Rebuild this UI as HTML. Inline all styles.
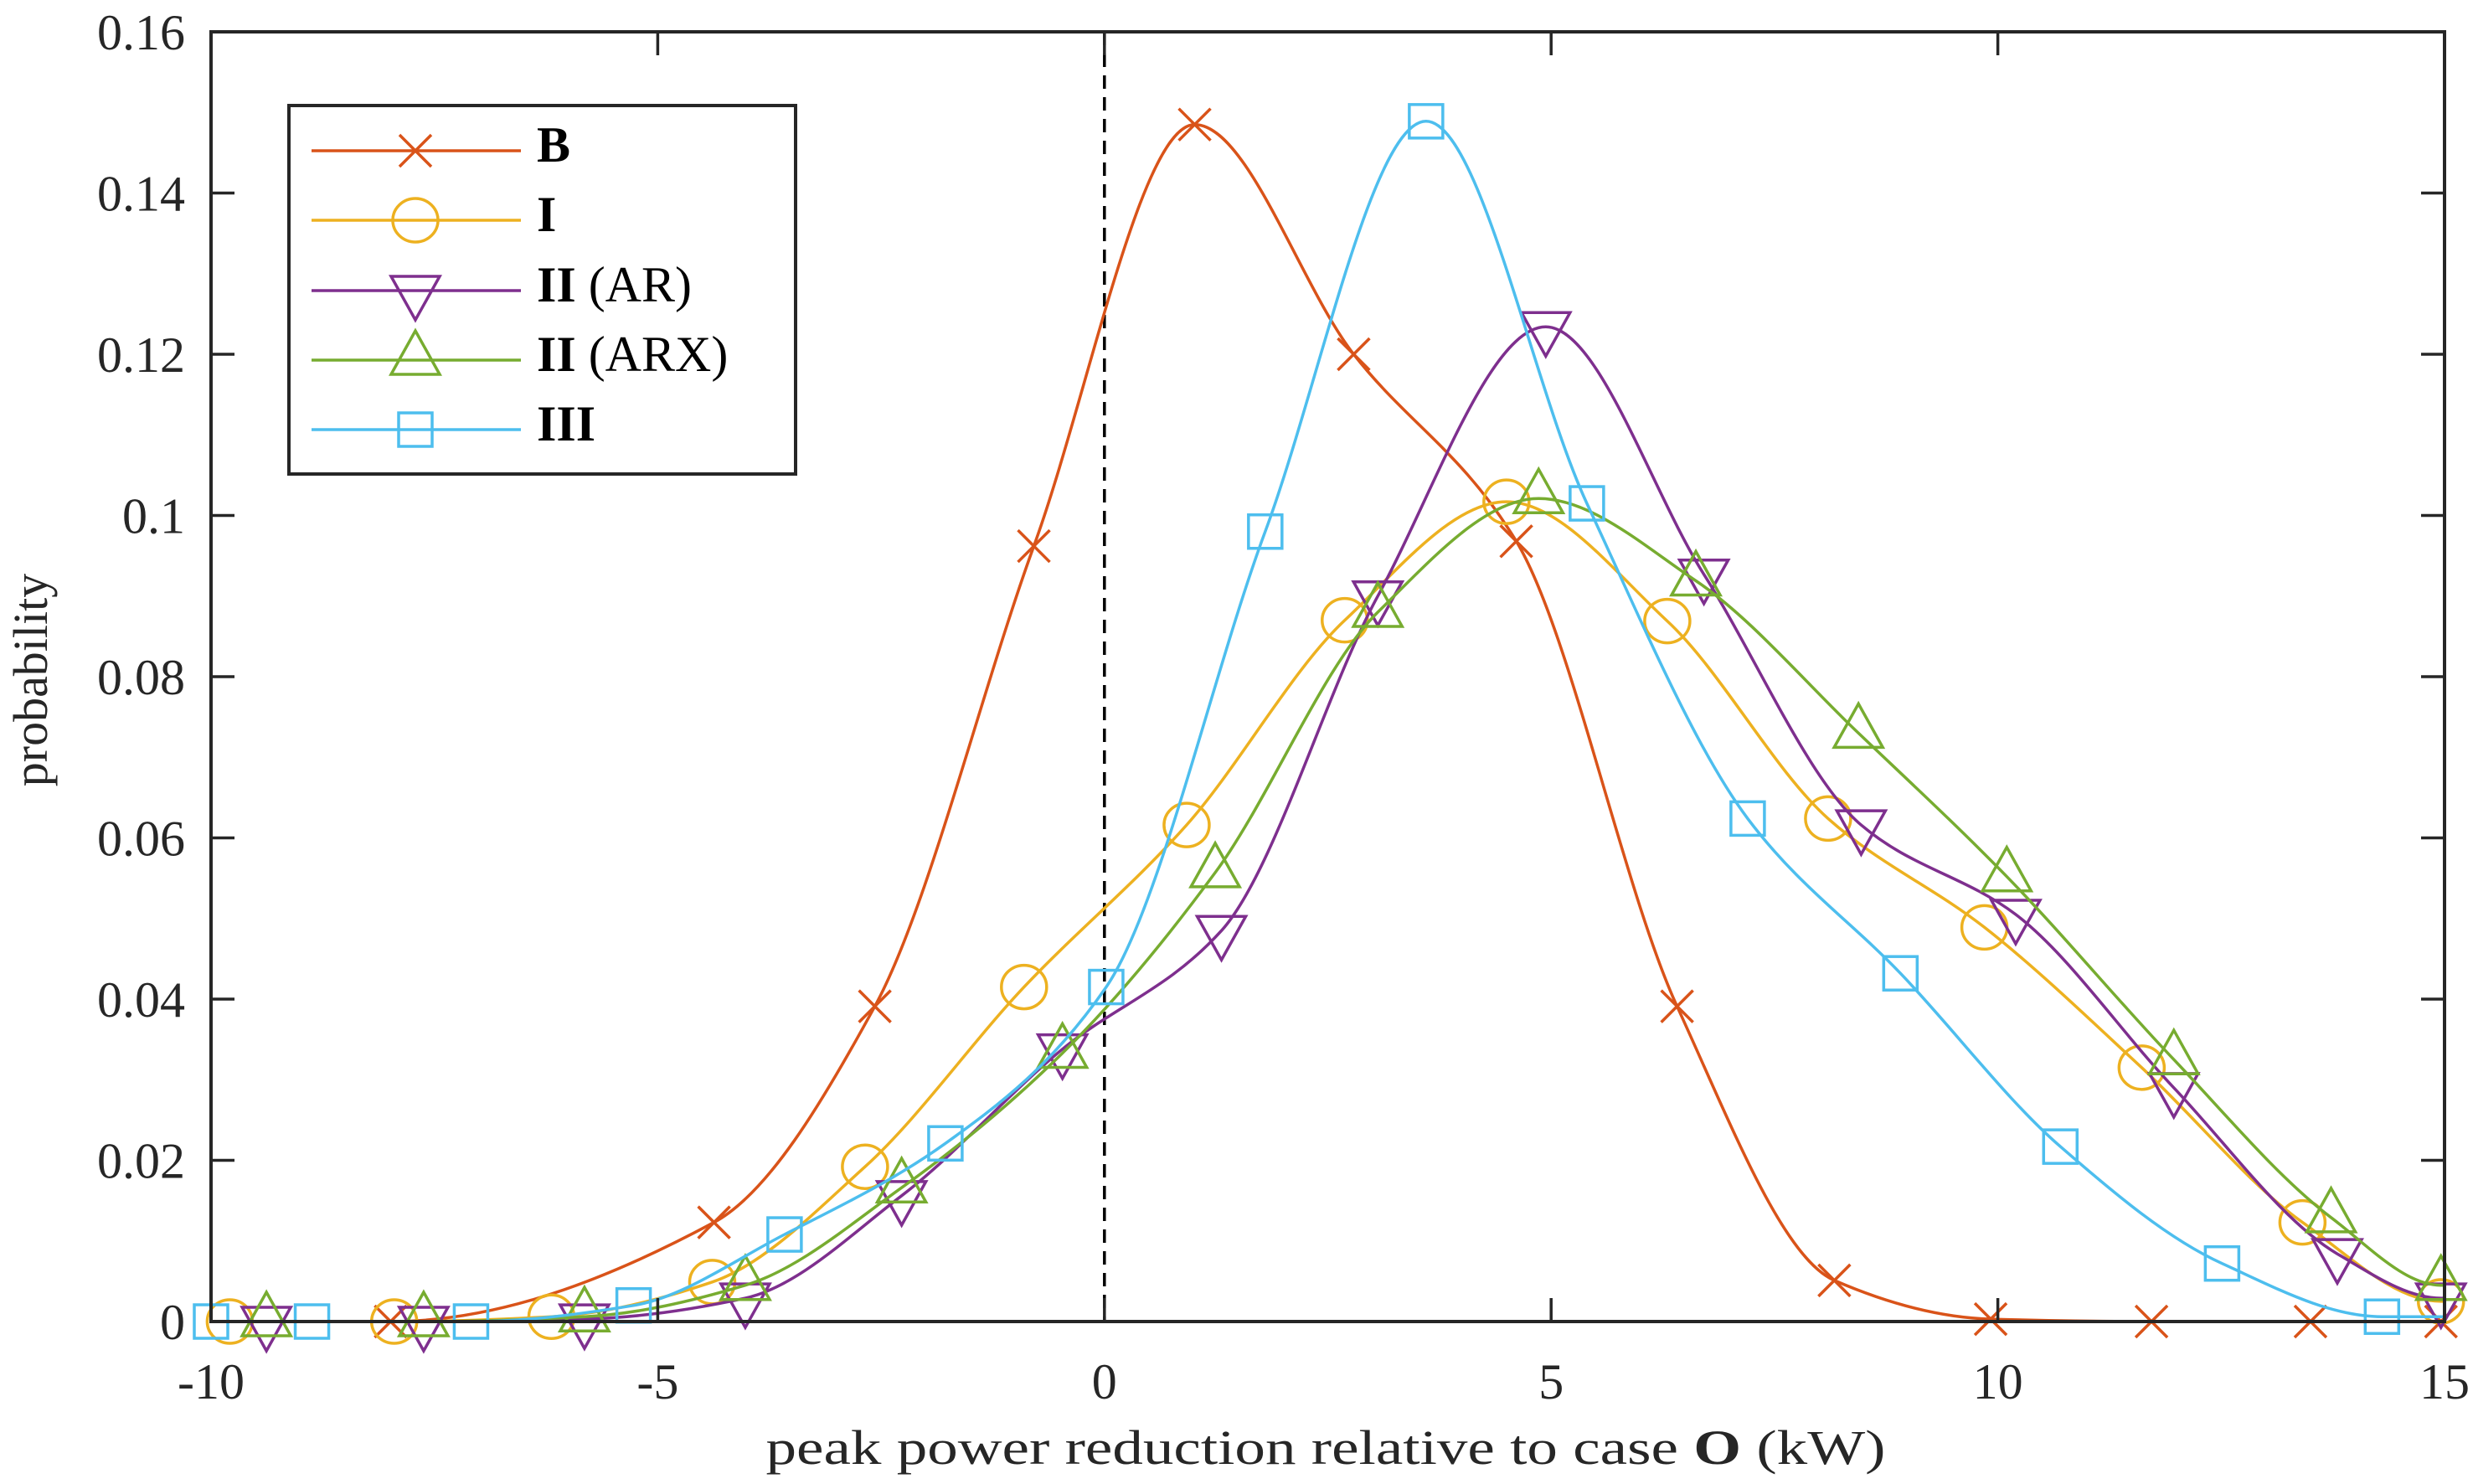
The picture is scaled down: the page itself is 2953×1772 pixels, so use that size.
<!DOCTYPE html>
<html><head><meta charset="utf-8">
<style>
html,body{margin:0;padding:0;background:#fff;}
svg{display:block;font-family:"Liberation Serif",serif;}
</style></head>
<body>
<svg id="chart" width="2953" height="1772" viewBox="0 0 2953 1772" xmlns="http://www.w3.org/2000/svg">
<rect x="0" y="0" width="2953" height="1772" fill="#fff"/>
<g id="series"></g>
<g id="axes"></g>
<g id="legend"></g>
</svg>
<script>
const xTicks = [-10, -5, 0, 5, 10, 15];
const yTicks = [0, 0.02, 0.04, 0.06, 0.08, 0.1, 0.12, 0.14, 0.16];
const yTickLabels = ["0", "0.02", "0.04", "0.06", "0.08", "0.1", "0.12", "0.14", "0.16"];
const seriesNames = ["B", "I", "II (AR)", "II (ARX)", "III"];

const bX = [-7.99, -4.37, -2.57, -0.79, 1.01, 2.79, 4.61, 6.41, 8.17, 9.92, 11.72, 13.5, 14.96];
const bY = [0, 0.0123, 0.0391, 0.0962, 0.1485, 0.120, 0.0968, 0.0391, 0.0051, 0.0003, 0, 0, 0];
const iX = [-9.79, -7.95, -6.19, -4.39, -2.68, -0.9, 0.92, 2.69, 4.5, 6.3, 8.1, 9.85, 11.61, 13.41, 14.96];
const iY = [0, 0, 0.0006, 0.0049, 0.0192, 0.0415, 0.0616, 0.087, 0.1017, 0.0869, 0.0624, 0.0489, 0.0315, 0.0123, 0.0025];
const arX = [-9.38, -7.62, -5.82, -4.02, -2.27, -0.47, 1.31, 3.06, 4.94, 6.71, 8.47, 10.2, 11.97, 13.8, 14.96];
const arY = [0, 0, 0.0003, 0.0029, 0.0156, 0.0338, 0.0485, 0.090, 0.1234, 0.0927, 0.0616, 0.0505, 0.029, 0.0084, 0.0029];
const arxX = [-9.38, -7.62, -5.82, -4.02, -2.27, -0.47, 1.24, 3.06, 4.86, 6.62, 8.44, 10.1, 11.97, 13.73, 14.96];
const arxY = [0, 0, 0.0006, 0.0045, 0.0166, 0.0333, 0.0557, 0.088, 0.1021, 0.0919, 0.073, 0.0552, 0.0325, 0.0129, 0.0045];
const iiiX = [-10, -8.87, -7.09, -5.27, -3.58, -1.78, 0.02, 1.8, 3.6, 5.4, 7.2, 8.91, 10.7, 12.51, 14.3];
const iiiY = [0, 0, 0, 0.002, 0.0108, 0.0221, 0.0415, 0.098, 0.1489, 0.1015, 0.0624, 0.0432, 0.0217, 0.0072, 0.0006];

const L = 252, R = 2919, T = 38, B = 1578;
const xMin = -10, xMax = 15, yMin = 0, yMax = 0.16;
function X(v){ return L + (v - xMin) / (xMax - xMin) * (R - L); }
function Y(v){ return B - (v - yMin) / (yMax - yMin) * (B - T); }

const NS = "http://www.w3.org/2000/svg";
function mk(tag, attrs, parent){
  const e = document.createElementNS(NS, tag);
  for (const k in attrs) e.setAttribute(k, attrs[k]);
  parent.appendChild(e);
  return e;
}
const gS = document.getElementById("series");
const gA = document.getElementById("axes");
const gL = document.getElementById("legend");

const colors = ["#D95319", "#EDB120", "#7E2F8E", "#77AC30", "#4DBEEE"];
const kinds = ["x", "o", "v", "^", "s"];
const allX = [bX, iX, arX, arxX, iiiX];
const allY = [bY, iY, arY, arxY, iiiY];

function curvePath(xs, ys){
  const pts = [];
  if (xs[0] > xMin) pts.push([X(xMin), Y(ys[0])]);
  for (let i = 0; i < xs.length; i++) pts.push([X(xs[i]), Y(ys[i])]);
  if (xs[xs.length-1] < xMax) pts.push([X(xMax), Y(ys[ys.length-1])]);
  const n = pts.length;
  const d0 = [], m = [];
  for (let i = 0; i < n-1; i++) d0.push((pts[i+1][1]-pts[i][1])/(pts[i+1][0]-pts[i][0]));
  for (let i = 0; i < n; i++){
    if (i === 0) m.push(d0[0]);
    else if (i === n-1) m.push(d0[n-2]);
    else if (d0[i-1]*d0[i] <= 0) m.push(0);
    else {
      const h0 = pts[i][0]-pts[i-1][0], h1 = pts[i+1][0]-pts[i][0];
      const w1 = 2*h1+h0, w2 = h1+2*h0;
      m.push((w1+w2)/(w1/d0[i-1]+w2/d0[i]));
    }
  }
  let d = "M" + pts[0][0].toFixed(1) + "," + pts[0][1].toFixed(1);
  for (let i = 0; i < n-1; i++){
    const h = pts[i+1][0]-pts[i][0];
    const c1x = pts[i][0]+h/3, c1y = pts[i][1]+m[i]*h/3;
    const c2x = pts[i+1][0]-h/3, c2y = pts[i+1][1]-m[i+1]*h/3;
    d += " C" + c1x.toFixed(1) + "," + c1y.toFixed(1) + " " + c2x.toFixed(1) + "," + c2y.toFixed(1) + " " + pts[i+1][0].toFixed(1) + "," + pts[i+1][1].toFixed(1);
  }
  return d;
}

function marker(kind, cx, cy, color, parent){
  let e;
  const st = {fill:"none", stroke:color, "stroke-width":3.5};
  if (kind === "x"){
    e = mk("path", Object.assign({d:`M${cx-19},${cy-19}L${cx+19},${cy+19}M${cx-19},${cy+19}L${cx+19},${cy-19}`}, st), parent);
  } else if (kind === "o"){
    e = mk("ellipse", Object.assign({cx:cx, cy:cy, rx:27, ry:26}, st), parent);
  } else if (kind === "v"){
    e = mk("path", Object.assign({d:`M${cx-29},${cy-17}L${cx+29},${cy-17}L${cx},${cy+35}Z`}, st), parent);
  } else if (kind === "^"){
    e = mk("path", Object.assign({d:`M${cx-29},${cy+17}L${cx+29},${cy+17}L${cx},${cy-35}Z`}, st), parent);
  } else {
    e = mk("rect", Object.assign({x:cx-20, y:cy-20, width:40, height:40}, st), parent);
  }
  return e;
}

const zl = mk("line", {x1:X(0), x2:X(0), y1:T, y2:B, stroke:"#000", "stroke-width":3.5, "stroke-dasharray":"16,10"}, gS);



for (let s = 0; s < 5; s++){
  const g = mk("g", {}, gS);
  
  
  const p = mk("path", {d:curvePath(allX[s], allY[s]), fill:"none", stroke:colors[s], "stroke-width":3.5}, g);
  
  
  for (let i = 0; i < allX[s].length; i++){
    const mm = marker(kinds[s], X(allX[s][i]), Y(allY[s][i]), colors[s], g);
    
    
  }
}

const box = mk("rect", {x:L, y:T, width:R-L, height:B-T, fill:"none", stroke:"#262626", "stroke-width":4}, gA);



for (let i = 0; i < xTicks.length; i++){
  const x = X(xTicks[i]);
  const t1 = mk("line", {x1:x, x2:x, y1:B, y2:B-28, stroke:"#262626", "stroke-width":3.5}, gA);
  
  
  const t2 = mk("line", {x1:x, x2:x, y1:T, y2:T+28, stroke:"#262626", "stroke-width":3.5}, gA);
  
  
  const lb = mk("text", {x:x, y:1670, "text-anchor":"middle", "font-size":60, fill:"#262626"}, gA);
  lb.textContent = String(xTicks[i]);
  
  
}
for (let i = 0; i < yTicks.length; i++){
  const y = Y(yTicks[i]);
  const t1 = mk("line", {x1:L, x2:L+28, y1:y, y2:y, stroke:"#262626", "stroke-width":3.5}, gA);
  
  
  const t2 = mk("line", {x1:R, x2:R-28, y1:y, y2:y, stroke:"#262626", "stroke-width":3.5}, gA);
  
  
  const lb = mk("text", {x:221, y:y+21, "text-anchor":"end", "font-size":60, fill:"#262626"}, gA);
  lb.textContent = yTickLabels[i];
  
  
}
const xt = mk("text", {x:1583, y:1748, "text-anchor":"middle", "font-size":58, fill:"#262626", textLength:1337, lengthAdjust:"spacingAndGlyphs"}, gA);
xt.innerHTML = 'peak power reduction relative to case <tspan font-weight="bold">O</tspan> (kW)';


const yt = mk("text", {x:0, y:0, "text-anchor":"middle", "font-size":58, fill:"#262626", transform:"translate(56,812) rotate(-90)"}, gA);
yt.textContent = "probability";



const lbg = mk("rect", {x:345, y:126, width:605, height:440, fill:"#fff", stroke:"#262626", "stroke-width":4}, gL);


const legY = [180, 263, 347, 430, 513];
const legLabels = ['<tspan font-weight="bold">B</tspan>', '<tspan font-weight="bold">I</tspan>', '<tspan font-weight="bold">II</tspan> (AR)', '<tspan font-weight="bold">II</tspan> (ARX)', '<tspan font-weight="bold">III</tspan>'];
for (let s = 0; s < 5; s++){
  const g = mk("g", {}, gL);
  
  
  const ln = mk("line", {x1:372, x2:622, y1:legY[s], y2:legY[s], stroke:colors[s], "stroke-width":3.5}, g);
  
  
  const mm = marker(kinds[s], 496, legY[s], colors[s], g);
  
  
  const tx = mk("text", {x:641, y:legY[s]+13, "font-size":60, fill:"#000"}, g);
  tx.innerHTML = legLabels[s];
  
  
}
</script>
</body></html>
